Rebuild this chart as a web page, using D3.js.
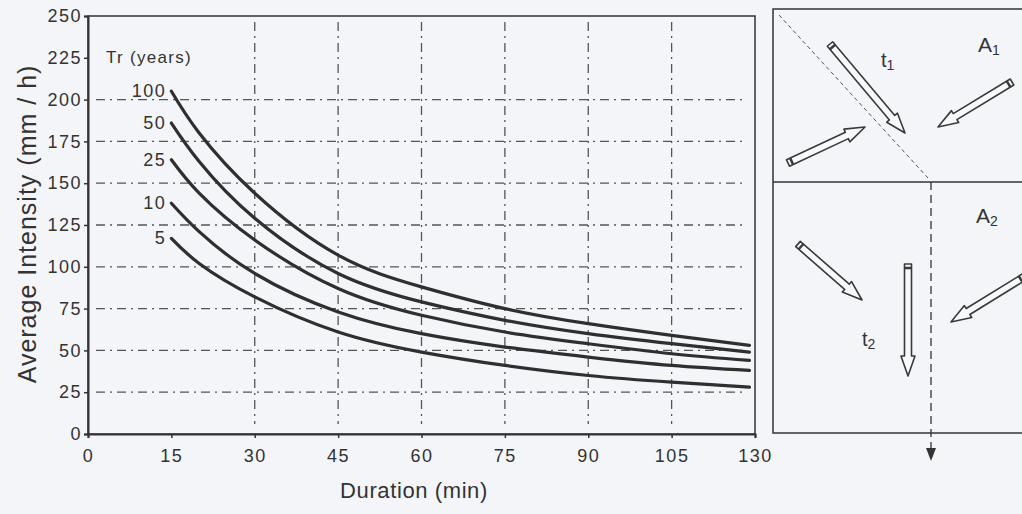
<!DOCTYPE html>
<html>
<head>
<meta charset="utf-8">
<script src="https://cdn.jsdelivr.net/npm/d3@7"></script>
<style>
  body { margin: 0; background: #f3f5f9; }
  svg { display: block; font-family: "Liberation Sans", Arial, sans-serif; }
</style>
</head>
<body>
<div id="viz"></div>
<script>
const durations = [15, 20, 30, 45, 60, 75, 90, 105, 119];
const returnPeriods = ["100", "50", "25", "10", "5"];
const tr100 = [205, 180, 144, 107, 88, 75, 66, 59, 53];
const tr50 = [186, 163, 129, 96, 79, 68, 60, 54, 49];
const tr25 = [164, 144, 116, 87, 71, 61, 54, 48, 44];
const tr10 = [138, 121, 96, 73, 60, 52, 46, 41, 38];
const tr5 = [117, 102, 82, 61, 49, 41, 35, 31, 28];
const seriesValues = [tr100, tr50, tr25, tr10, tr5];

const xTickValues = [0, 15, 30, 45, 60, 75, 90, 105, 120];
const xTickLabels = ["0", "15", "30", "45", "60", "75", "90", "105", "130"];
const yTickValues = [0, 25, 50, 75, 100, 125, 150, 175, 200, 225, 250];
const xGridValues = [30, 45, 60, 75, 90, 105];
const yGridValues = [25, 50, 75, 100, 125, 150, 175, 200];

const width = 1022,
  height = 514;
const plotLeft = 88,
  plotRight = 755,
  plotTop = 16,
  plotBottom = 434;
const ink = "#333";

const svg = d3
  .select("#viz")
  .append("svg")
  .attr("width", width)
  .attr("height", height);

const xScale = d3.scaleLinear().domain([0, 120]).range([plotLeft, plotRight]);
const yScale = d3.scaleLinear().domain([0, 250]).range([plotBottom, plotTop]);

// dash-dot grid
const grid = svg.append("g").attr("stroke", "#555").attr("stroke-width", 1.3)
  .attr("stroke-dasharray", "9,5,2,5");
grid.selectAll(".hg").data(yGridValues).enter().append("line")
  .attr("x1", plotLeft + 8).attr("x2", plotRight - 10)
  .attr("y1", d => yScale(d)).attr("y2", d => yScale(d));
grid.selectAll(".vg").data(xGridValues).enter().append("line")
  .attr("x1", d => xScale(d)).attr("x2", d => xScale(d))
  .attr("y1", plotTop + 6).attr("y2", plotBottom - 10);

// frame
svg.append("rect")
  .attr("x", plotLeft).attr("y", plotTop)
  .attr("width", plotRight - plotLeft).attr("height", plotBottom - plotTop)
  .attr("fill", "none").attr("stroke", ink).attr("stroke-width", 1.5);

// axes
const xAxis = d3.axisBottom(xScale).tickValues(xTickValues).tickSize(4)
  .tickFormat((d, i) => xTickLabels[i]);
const yAxis = d3.axisLeft(yScale).tickValues(yTickValues).tickSize(4);

const gx = svg.append("g").attr("transform", `translate(0,${plotBottom})`).call(xAxis);
const gy = svg.append("g").attr("transform", `translate(${plotLeft},0)`).call(yAxis);
[gx, gy].forEach(g => {
  g.select(".domain").attr("stroke", ink).attr("stroke-width", 2);
  g.selectAll(".tick line").attr("stroke", ink).attr("stroke-width", 1.5);
  g.selectAll(".tick text").attr("fill", ink)
    .style("font-size", "18px").style("letter-spacing", "1.5px");
});
gx.selectAll(".tick text").attr("dy", "1.15em");
gy.selectAll(".tick text").attr("x", -6);

// axis titles
svg.append("text")
  .attr("x", 414).attr("y", 498)
  .attr("text-anchor", "middle")
  .attr("fill", ink).style("font-size", "22px").style("letter-spacing", "0.6px")
  .text("Duration (min)");
svg.append("text")
  .attr("transform", "translate(36,224) rotate(-90)")
  .attr("text-anchor", "middle")
  .attr("fill", ink).style("font-size", "25px").style("letter-spacing", "1px")
  .text("Average Intensity (mm / h)");

// curves
const line = d3.line()
  .x((d, i) => xScale(durations[i]))
  .y(d => yScale(d))
  .curve(d3.curveNatural);

svg.selectAll(".curve").data(seriesValues).enter().append("path")
  .attr("class", "curve")
  .attr("d", line)
  .attr("fill", "none")
  .attr("stroke", "#2f2f2f")
  .attr("stroke-width", 3.2)
  .attr("stroke-linecap", "round");

// curve labels
svg.append("text")
  .attr("x", 106).attr("y", 63)
  .attr("fill", ink).style("font-size", "17px").style("letter-spacing", "1.3px")
  .text("Tr (years)");
svg.selectAll(".lbl").data(returnPeriods).enter().append("text")
  .attr("x", xScale(durations[0]) - 5)
  .attr("y", (d, i) => yScale(seriesValues[i][0]) + 6)
  .attr("text-anchor", "end")
  .attr("fill", ink).style("font-size", "18px").style("letter-spacing", "1.5px")
  .text(d => d);

// side panel with catchment sketch
const panel = svg.append("g");
panel.append("rect").attr("x", 773).attr("y", 9).attr("width", 260).attr("height", 424)
  .attr("fill", "none").attr("stroke", ink).attr("stroke-width", 1.5);
panel.append("line").attr("x1", 773).attr("x2", 1022).attr("y1", 182).attr("y2", 182)
  .attr("stroke", ink).attr("stroke-width", 1.5);
panel.append("line").attr("x1", 779).attr("y1", 15).attr("x2", 928).attr("y2", 178)
  .attr("stroke", "#555").attr("stroke-width", 1).attr("stroke-dasharray", "4,3");
panel.append("line").attr("x1", 931).attr("y1", 182).attr("x2", 931).attr("y2", 450)
  .attr("stroke", ink).attr("stroke-width", 1.3).attr("stroke-dasharray", "8,5");
panel.append("path").attr("d", "M926,448 L936,448 L931,461 Z").attr("fill", ink);

const panelText = [
  { t: "A", s: "1", x: 978, y: 52, f: 21 },
  { t: "A", s: "2", x: 976, y: 223, f: 21 },
  { t: "t", s: "1", x: 881, y: 67, f: 20 },
  { t: "t", s: "2", x: 862, y: 346, f: 20 }
];
panelText.forEach(p => {
  const tx = panel.append("text").attr("x", p.x).attr("y", p.y)
    .attr("fill", ink).style("font-size", p.f + "px");
  tx.append("tspan").text(p.t);
  tx.append("tspan").style("font-size", "14px").attr("dy", 3).text(p.s);
});

// hollow pencil-like arrows: [tailX, tailY, headX, headY]
const pencils = [
  [830, 44, 905, 133],
  [1012, 82, 938, 127],
  [788, 163, 865, 127],
  [798, 244, 862, 300],
  [908, 264, 908, 376],
  [1024, 277, 951, 322]
];
pencils.forEach(([x0, y0, x1, y1]) => {
  const L = Math.hypot(x1 - x0, y1 - y0);
  const a = Math.atan2(y1 - y0, x1 - x0) * 180 / Math.PI;
  const b = L - 20;
  const d = `M0,-3.5 L${b},-3.5 L${b},-7 L${L},0 L${b},7 L${b},3.5 L0,3.5 Z`;
  const g = panel.append("g").attr("transform", `translate(${x0},${y0}) rotate(${a})`);
  g.append("path").attr("d", d).attr("fill", "#f8f9fb")
    .attr("stroke", "#3a3a3a").attr("stroke-width", 1.6).attr("stroke-linejoin", "round");
  g.append("line").attr("x1", 4).attr("x2", 4).attr("y1", -3.5).attr("y2", 3.5)
    .attr("stroke", "#3a3a3a").attr("stroke-width", 2.5);
});
</script>
</body>
</html>
